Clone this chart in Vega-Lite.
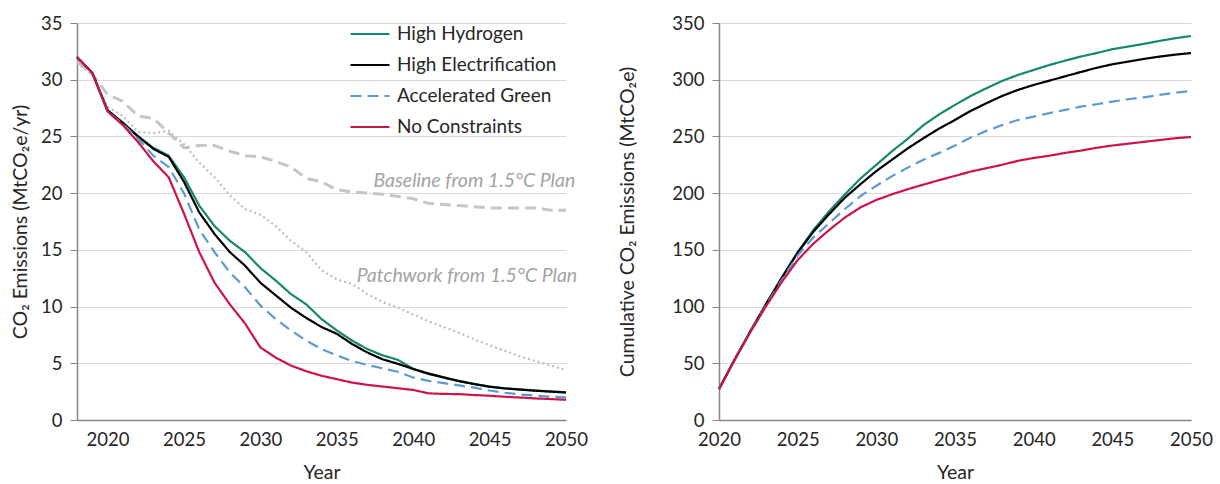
{
  "$schema": "https://vega.github.io/schema/vega-lite/v6.json",
  "background": "white",
  "padding": {"left": 10, "top": 14, "right": 6, "bottom": 4},
  "bounds": "flush",
  "spacing": 153,
  "config": {
    "font": "Lato",
    "view": {"stroke": null},
    "axis": {
      "labelFont": "Lato", "titleFont": "Lato", "labelFontSize": 18.5, "titleFontSize": 19.5,
      "labelColor": "#262626", "titleColor": "#262626", "titleFontWeight": "normal",
      "gridColor": "#d9d9d9", "gridWidth": 1.2, "domainColor": "#868686", "domainWidth": 1.5, "tickColor": "#868686"
    },
    "axisX": {"ticks": false, "grid": false, "labelPadding": 10, "titlePadding": 15, "labelFlush": false},
    "axisY": {"tickSize": 7, "labelPadding": 8, "grid": true},
    "legend": {"labelFont": "Lato", "labelFontSize": 19, "labelColor": "#262626"}
  },
  "datasets": {
    "annual": [
      {"year": 2018, "scenario": "High Hydrogen", "value": 32.0},
      {"year": 2019, "scenario": "High Hydrogen", "value": 30.6},
      {"year": 2020, "scenario": "High Hydrogen", "value": 27.3},
      {"year": 2021, "scenario": "High Hydrogen", "value": 26.2},
      {"year": 2022, "scenario": "High Hydrogen", "value": 25.0},
      {"year": 2023, "scenario": "High Hydrogen", "value": 24.0},
      {"year": 2024, "scenario": "High Hydrogen", "value": 23.3},
      {"year": 2025, "scenario": "High Hydrogen", "value": 21.4},
      {"year": 2026, "scenario": "High Hydrogen", "value": 18.9},
      {"year": 2027, "scenario": "High Hydrogen", "value": 17.1},
      {"year": 2028, "scenario": "High Hydrogen", "value": 15.8},
      {"year": 2029, "scenario": "High Hydrogen", "value": 14.8},
      {"year": 2030, "scenario": "High Hydrogen", "value": 13.4},
      {"year": 2031, "scenario": "High Hydrogen", "value": 12.3},
      {"year": 2032, "scenario": "High Hydrogen", "value": 11.1},
      {"year": 2033, "scenario": "High Hydrogen", "value": 10.2},
      {"year": 2034, "scenario": "High Hydrogen", "value": 8.9},
      {"year": 2035, "scenario": "High Hydrogen", "value": 7.9},
      {"year": 2036, "scenario": "High Hydrogen", "value": 7.0},
      {"year": 2037, "scenario": "High Hydrogen", "value": 6.25},
      {"year": 2038, "scenario": "High Hydrogen", "value": 5.7},
      {"year": 2039, "scenario": "High Hydrogen", "value": 5.3},
      {"year": 2040, "scenario": "High Hydrogen", "value": 4.5},
      {"year": 2041, "scenario": "High Hydrogen", "value": 4.05},
      {"year": 2042, "scenario": "High Hydrogen", "value": 3.75},
      {"year": 2043, "scenario": "High Hydrogen", "value": 3.45},
      {"year": 2044, "scenario": "High Hydrogen", "value": 3.17},
      {"year": 2045, "scenario": "High Hydrogen", "value": 2.95},
      {"year": 2046, "scenario": "High Hydrogen", "value": 2.8},
      {"year": 2047, "scenario": "High Hydrogen", "value": 2.7},
      {"year": 2048, "scenario": "High Hydrogen", "value": 2.6},
      {"year": 2049, "scenario": "High Hydrogen", "value": 2.52},
      {"year": 2050, "scenario": "High Hydrogen", "value": 2.45},
      {"year": 2018, "scenario": "High Electrification", "value": 32.0},
      {"year": 2019, "scenario": "High Electrification", "value": 30.6},
      {"year": 2020, "scenario": "High Electrification", "value": 27.3},
      {"year": 2021, "scenario": "High Electrification", "value": 26.2},
      {"year": 2022, "scenario": "High Electrification", "value": 25.0},
      {"year": 2023, "scenario": "High Electrification", "value": 23.9},
      {"year": 2024, "scenario": "High Electrification", "value": 23.2},
      {"year": 2025, "scenario": "High Electrification", "value": 21.0},
      {"year": 2026, "scenario": "High Electrification", "value": 18.3},
      {"year": 2027, "scenario": "High Electrification", "value": 16.4},
      {"year": 2028, "scenario": "High Electrification", "value": 14.8},
      {"year": 2029, "scenario": "High Electrification", "value": 13.6},
      {"year": 2030, "scenario": "High Electrification", "value": 12.1},
      {"year": 2031, "scenario": "High Electrification", "value": 11.0},
      {"year": 2032, "scenario": "High Electrification", "value": 9.9},
      {"year": 2033, "scenario": "High Electrification", "value": 9.0},
      {"year": 2034, "scenario": "High Electrification", "value": 8.2},
      {"year": 2035, "scenario": "High Electrification", "value": 7.6},
      {"year": 2036, "scenario": "High Electrification", "value": 6.7},
      {"year": 2037, "scenario": "High Electrification", "value": 5.95},
      {"year": 2038, "scenario": "High Electrification", "value": 5.35},
      {"year": 2039, "scenario": "High Electrification", "value": 4.95},
      {"year": 2040, "scenario": "High Electrification", "value": 4.5},
      {"year": 2041, "scenario": "High Electrification", "value": 4.1},
      {"year": 2042, "scenario": "High Electrification", "value": 3.75},
      {"year": 2043, "scenario": "High Electrification", "value": 3.42},
      {"year": 2044, "scenario": "High Electrification", "value": 3.17},
      {"year": 2045, "scenario": "High Electrification", "value": 2.93},
      {"year": 2046, "scenario": "High Electrification", "value": 2.78},
      {"year": 2047, "scenario": "High Electrification", "value": 2.68},
      {"year": 2048, "scenario": "High Electrification", "value": 2.58},
      {"year": 2049, "scenario": "High Electrification", "value": 2.5},
      {"year": 2050, "scenario": "High Electrification", "value": 2.42},
      {"year": 2018, "scenario": "Accelerated Green", "value": 32.0},
      {"year": 2019, "scenario": "Accelerated Green", "value": 30.6},
      {"year": 2020, "scenario": "Accelerated Green", "value": 27.2},
      {"year": 2021, "scenario": "Accelerated Green", "value": 26.1},
      {"year": 2022, "scenario": "Accelerated Green", "value": 24.8},
      {"year": 2023, "scenario": "Accelerated Green", "value": 23.3},
      {"year": 2024, "scenario": "Accelerated Green", "value": 22.3},
      {"year": 2025, "scenario": "Accelerated Green", "value": 20.0},
      {"year": 2026, "scenario": "Accelerated Green", "value": 16.8},
      {"year": 2027, "scenario": "Accelerated Green", "value": 14.8},
      {"year": 2028, "scenario": "Accelerated Green", "value": 13.0},
      {"year": 2029, "scenario": "Accelerated Green", "value": 11.7},
      {"year": 2030, "scenario": "Accelerated Green", "value": 10.1},
      {"year": 2031, "scenario": "Accelerated Green", "value": 8.9},
      {"year": 2032, "scenario": "Accelerated Green", "value": 7.9},
      {"year": 2033, "scenario": "Accelerated Green", "value": 7.0},
      {"year": 2034, "scenario": "Accelerated Green", "value": 6.25},
      {"year": 2035, "scenario": "Accelerated Green", "value": 5.7},
      {"year": 2036, "scenario": "Accelerated Green", "value": 5.2},
      {"year": 2037, "scenario": "Accelerated Green", "value": 4.85},
      {"year": 2038, "scenario": "Accelerated Green", "value": 4.55},
      {"year": 2039, "scenario": "Accelerated Green", "value": 4.25},
      {"year": 2040, "scenario": "Accelerated Green", "value": 3.75},
      {"year": 2041, "scenario": "Accelerated Green", "value": 3.45},
      {"year": 2042, "scenario": "Accelerated Green", "value": 3.25},
      {"year": 2043, "scenario": "Accelerated Green", "value": 3.05},
      {"year": 2044, "scenario": "Accelerated Green", "value": 2.85},
      {"year": 2045, "scenario": "Accelerated Green", "value": 2.6},
      {"year": 2046, "scenario": "Accelerated Green", "value": 2.4},
      {"year": 2047, "scenario": "Accelerated Green", "value": 2.25},
      {"year": 2048, "scenario": "Accelerated Green", "value": 2.15},
      {"year": 2049, "scenario": "Accelerated Green", "value": 2.05},
      {"year": 2050, "scenario": "Accelerated Green", "value": 2.0},
      {"year": 2018, "scenario": "No Constraints", "value": 32.0},
      {"year": 2019, "scenario": "No Constraints", "value": 30.6},
      {"year": 2020, "scenario": "No Constraints", "value": 27.2},
      {"year": 2021, "scenario": "No Constraints", "value": 26.0},
      {"year": 2022, "scenario": "No Constraints", "value": 24.5},
      {"year": 2023, "scenario": "No Constraints", "value": 22.8},
      {"year": 2024, "scenario": "No Constraints", "value": 21.4},
      {"year": 2025, "scenario": "No Constraints", "value": 18.2},
      {"year": 2026, "scenario": "No Constraints", "value": 14.8},
      {"year": 2027, "scenario": "No Constraints", "value": 12.1},
      {"year": 2028, "scenario": "No Constraints", "value": 10.2},
      {"year": 2029, "scenario": "No Constraints", "value": 8.5},
      {"year": 2030, "scenario": "No Constraints", "value": 6.4},
      {"year": 2031, "scenario": "No Constraints", "value": 5.5},
      {"year": 2032, "scenario": "No Constraints", "value": 4.8},
      {"year": 2033, "scenario": "No Constraints", "value": 4.3},
      {"year": 2034, "scenario": "No Constraints", "value": 3.9},
      {"year": 2035, "scenario": "No Constraints", "value": 3.6},
      {"year": 2036, "scenario": "No Constraints", "value": 3.3},
      {"year": 2037, "scenario": "No Constraints", "value": 3.1},
      {"year": 2038, "scenario": "No Constraints", "value": 2.95},
      {"year": 2039, "scenario": "No Constraints", "value": 2.8},
      {"year": 2040, "scenario": "No Constraints", "value": 2.65},
      {"year": 2041, "scenario": "No Constraints", "value": 2.35},
      {"year": 2042, "scenario": "No Constraints", "value": 2.3},
      {"year": 2043, "scenario": "No Constraints", "value": 2.28},
      {"year": 2044, "scenario": "No Constraints", "value": 2.2},
      {"year": 2045, "scenario": "No Constraints", "value": 2.14},
      {"year": 2046, "scenario": "No Constraints", "value": 2.05},
      {"year": 2047, "scenario": "No Constraints", "value": 1.98},
      {"year": 2048, "scenario": "No Constraints", "value": 1.9},
      {"year": 2049, "scenario": "No Constraints", "value": 1.85},
      {"year": 2050, "scenario": "No Constraints", "value": 1.78}
    ],
    "baseline": [
      {"year": 2018, "value": 31.6}, {"year": 2019, "value": 30.5}, {"year": 2020, "value": 28.7},
      {"year": 2021, "value": 28.1}, {"year": 2022, "value": 26.8}, {"year": 2023, "value": 26.6},
      {"year": 2024, "value": 25.3}, {"year": 2025, "value": 24.0}, {"year": 2026, "value": 24.2},
      {"year": 2027, "value": 24.2}, {"year": 2028, "value": 23.7}, {"year": 2029, "value": 23.3},
      {"year": 2030, "value": 23.2}, {"year": 2031, "value": 22.8}, {"year": 2032, "value": 22.3},
      {"year": 2033, "value": 21.3}, {"year": 2034, "value": 21.0}, {"year": 2035, "value": 20.3},
      {"year": 2036, "value": 20.1}, {"year": 2037, "value": 20.0}, {"year": 2038, "value": 19.9},
      {"year": 2039, "value": 19.7}, {"year": 2040, "value": 19.5}, {"year": 2041, "value": 19.1},
      {"year": 2042, "value": 19.0}, {"year": 2043, "value": 18.9}, {"year": 2044, "value": 18.8},
      {"year": 2045, "value": 18.7}, {"year": 2046, "value": 18.7}, {"year": 2047, "value": 18.7},
      {"year": 2048, "value": 18.7}, {"year": 2049, "value": 18.5}, {"year": 2050, "value": 18.5}
    ],
    "patchwork": [
      {"year": 2018, "value": 31.5}, {"year": 2019, "value": 30.4}, {"year": 2020, "value": 27.6},
      {"year": 2021, "value": 26.8}, {"year": 2022, "value": 25.4}, {"year": 2023, "value": 25.3},
      {"year": 2024, "value": 25.5}, {"year": 2025, "value": 24.3}, {"year": 2026, "value": 22.7},
      {"year": 2027, "value": 21.4}, {"year": 2028, "value": 19.8}, {"year": 2029, "value": 18.6},
      {"year": 2030, "value": 18.1}, {"year": 2031, "value": 17.1}, {"year": 2032, "value": 15.8},
      {"year": 2033, "value": 14.8}, {"year": 2034, "value": 13.2}, {"year": 2035, "value": 12.4},
      {"year": 2036, "value": 12.0}, {"year": 2037, "value": 11.1}, {"year": 2038, "value": 10.4},
      {"year": 2039, "value": 9.9}, {"year": 2040, "value": 9.3}, {"year": 2041, "value": 8.7},
      {"year": 2042, "value": 8.2}, {"year": 2043, "value": 7.7}, {"year": 2044, "value": 7.1},
      {"year": 2045, "value": 6.6}, {"year": 2046, "value": 6.1}, {"year": 2047, "value": 5.6},
      {"year": 2048, "value": 5.2}, {"year": 2049, "value": 4.8}, {"year": 2050, "value": 4.4}
    ],
    "notes": [
      {"year": 2037.4, "value": 21.1, "label": "Baseline from 1.5°C Plan"},
      {"year": 2036.3, "value": 12.7, "label": "Patchwork from 1.5°C Plan"}
    ],
    "cumulative": [
      {"year": 2020, "scenario": "High Hydrogen", "value": 27.3},
      {"year": 2021, "scenario": "High Hydrogen", "value": 53.4},
      {"year": 2022, "scenario": "High Hydrogen", "value": 78.4},
      {"year": 2023, "scenario": "High Hydrogen", "value": 102.4},
      {"year": 2024, "scenario": "High Hydrogen", "value": 125.7},
      {"year": 2025, "scenario": "High Hydrogen", "value": 148.0},
      {"year": 2026, "scenario": "High Hydrogen", "value": 167.5},
      {"year": 2027, "scenario": "High Hydrogen", "value": 184.0},
      {"year": 2028, "scenario": "High Hydrogen", "value": 198.9},
      {"year": 2029, "scenario": "High Hydrogen", "value": 213.0},
      {"year": 2030, "scenario": "High Hydrogen", "value": 225.0},
      {"year": 2031, "scenario": "High Hydrogen", "value": 237.0},
      {"year": 2032, "scenario": "High Hydrogen", "value": 248.0},
      {"year": 2033, "scenario": "High Hydrogen", "value": 260.0},
      {"year": 2034, "scenario": "High Hydrogen", "value": 269.5},
      {"year": 2035, "scenario": "High Hydrogen", "value": 277.8},
      {"year": 2036, "scenario": "High Hydrogen", "value": 285.7},
      {"year": 2037, "scenario": "High Hydrogen", "value": 292.5},
      {"year": 2038, "scenario": "High Hydrogen", "value": 298.9},
      {"year": 2039, "scenario": "High Hydrogen", "value": 304.2},
      {"year": 2040, "scenario": "High Hydrogen", "value": 308.6},
      {"year": 2041, "scenario": "High Hydrogen", "value": 313.0},
      {"year": 2042, "scenario": "High Hydrogen", "value": 316.8},
      {"year": 2043, "scenario": "High Hydrogen", "value": 320.4},
      {"year": 2044, "scenario": "High Hydrogen", "value": 323.5},
      {"year": 2045, "scenario": "High Hydrogen", "value": 326.9},
      {"year": 2046, "scenario": "High Hydrogen", "value": 329.2},
      {"year": 2047, "scenario": "High Hydrogen", "value": 331.6},
      {"year": 2048, "scenario": "High Hydrogen", "value": 334.2},
      {"year": 2049, "scenario": "High Hydrogen", "value": 336.6},
      {"year": 2050, "scenario": "High Hydrogen", "value": 338.5},
      {"year": 2020, "scenario": "High Electrification", "value": 27.3},
      {"year": 2021, "scenario": "High Electrification", "value": 53.4},
      {"year": 2022, "scenario": "High Electrification", "value": 78.4},
      {"year": 2023, "scenario": "High Electrification", "value": 102.4},
      {"year": 2024, "scenario": "High Electrification", "value": 125.6},
      {"year": 2025, "scenario": "High Electrification", "value": 147.5},
      {"year": 2026, "scenario": "High Electrification", "value": 166.0},
      {"year": 2027, "scenario": "High Electrification", "value": 181.5},
      {"year": 2028, "scenario": "High Electrification", "value": 196.0},
      {"year": 2029, "scenario": "High Electrification", "value": 208.0},
      {"year": 2030, "scenario": "High Electrification", "value": 219.5},
      {"year": 2031, "scenario": "High Electrification", "value": 229.5},
      {"year": 2032, "scenario": "High Electrification", "value": 239.5},
      {"year": 2033, "scenario": "High Electrification", "value": 248.5},
      {"year": 2034, "scenario": "High Electrification", "value": 257.0},
      {"year": 2035, "scenario": "High Electrification", "value": 264.5},
      {"year": 2036, "scenario": "High Electrification", "value": 272.5},
      {"year": 2037, "scenario": "High Electrification", "value": 279.3},
      {"year": 2038, "scenario": "High Electrification", "value": 285.7},
      {"year": 2039, "scenario": "High Electrification", "value": 291.0},
      {"year": 2040, "scenario": "High Electrification", "value": 295.4},
      {"year": 2041, "scenario": "High Electrification", "value": 299.2},
      {"year": 2042, "scenario": "High Electrification", "value": 303.0},
      {"year": 2043, "scenario": "High Electrification", "value": 306.8},
      {"year": 2044, "scenario": "High Electrification", "value": 310.5},
      {"year": 2045, "scenario": "High Electrification", "value": 313.6},
      {"year": 2046, "scenario": "High Electrification", "value": 316.0},
      {"year": 2047, "scenario": "High Electrification", "value": 318.3},
      {"year": 2048, "scenario": "High Electrification", "value": 320.4},
      {"year": 2049, "scenario": "High Electrification", "value": 322.1},
      {"year": 2050, "scenario": "High Electrification", "value": 323.5},
      {"year": 2020, "scenario": "Accelerated Green", "value": 27.2},
      {"year": 2021, "scenario": "Accelerated Green", "value": 53.4},
      {"year": 2022, "scenario": "Accelerated Green", "value": 78.2},
      {"year": 2023, "scenario": "Accelerated Green", "value": 101.5},
      {"year": 2024, "scenario": "Accelerated Green", "value": 123.8},
      {"year": 2025, "scenario": "Accelerated Green", "value": 145.0},
      {"year": 2026, "scenario": "Accelerated Green", "value": 161.0},
      {"year": 2027, "scenario": "Accelerated Green", "value": 173.5},
      {"year": 2028, "scenario": "Accelerated Green", "value": 186.0},
      {"year": 2029, "scenario": "Accelerated Green", "value": 197.5},
      {"year": 2030, "scenario": "Accelerated Green", "value": 206.5},
      {"year": 2031, "scenario": "Accelerated Green", "value": 215.0},
      {"year": 2032, "scenario": "Accelerated Green", "value": 222.5},
      {"year": 2033, "scenario": "Accelerated Green", "value": 229.5},
      {"year": 2034, "scenario": "Accelerated Green", "value": 235.5},
      {"year": 2035, "scenario": "Accelerated Green", "value": 242.0},
      {"year": 2036, "scenario": "Accelerated Green", "value": 249.0},
      {"year": 2037, "scenario": "Accelerated Green", "value": 254.9},
      {"year": 2038, "scenario": "Accelerated Green", "value": 260.0},
      {"year": 2039, "scenario": "Accelerated Green", "value": 264.5},
      {"year": 2040, "scenario": "Accelerated Green", "value": 267.5},
      {"year": 2041, "scenario": "Accelerated Green", "value": 270.5},
      {"year": 2042, "scenario": "Accelerated Green", "value": 273.4},
      {"year": 2043, "scenario": "Accelerated Green", "value": 276.3},
      {"year": 2044, "scenario": "Accelerated Green", "value": 278.4},
      {"year": 2045, "scenario": "Accelerated Green", "value": 280.7},
      {"year": 2046, "scenario": "Accelerated Green", "value": 282.8},
      {"year": 2047, "scenario": "Accelerated Green", "value": 284.5},
      {"year": 2048, "scenario": "Accelerated Green", "value": 286.6},
      {"year": 2049, "scenario": "Accelerated Green", "value": 288.6},
      {"year": 2050, "scenario": "Accelerated Green", "value": 290.0},
      {"year": 2020, "scenario": "No Constraints", "value": 27.2},
      {"year": 2021, "scenario": "No Constraints", "value": 53.2},
      {"year": 2022, "scenario": "No Constraints", "value": 77.7},
      {"year": 2023, "scenario": "No Constraints", "value": 100.5},
      {"year": 2024, "scenario": "No Constraints", "value": 121.9},
      {"year": 2025, "scenario": "No Constraints", "value": 141.0},
      {"year": 2026, "scenario": "No Constraints", "value": 155.5},
      {"year": 2027, "scenario": "No Constraints", "value": 167.5},
      {"year": 2028, "scenario": "No Constraints", "value": 178.5},
      {"year": 2029, "scenario": "No Constraints", "value": 187.5},
      {"year": 2030, "scenario": "No Constraints", "value": 194.0},
      {"year": 2031, "scenario": "No Constraints", "value": 199.0},
      {"year": 2032, "scenario": "No Constraints", "value": 203.5},
      {"year": 2033, "scenario": "No Constraints", "value": 207.5},
      {"year": 2034, "scenario": "No Constraints", "value": 211.5},
      {"year": 2035, "scenario": "No Constraints", "value": 215.2},
      {"year": 2036, "scenario": "No Constraints", "value": 219.0},
      {"year": 2037, "scenario": "No Constraints", "value": 222.0},
      {"year": 2038, "scenario": "No Constraints", "value": 225.0},
      {"year": 2039, "scenario": "No Constraints", "value": 228.5},
      {"year": 2040, "scenario": "No Constraints", "value": 231.0},
      {"year": 2041, "scenario": "No Constraints", "value": 233.0},
      {"year": 2042, "scenario": "No Constraints", "value": 235.5},
      {"year": 2043, "scenario": "No Constraints", "value": 237.5},
      {"year": 2044, "scenario": "No Constraints", "value": 240.0},
      {"year": 2045, "scenario": "No Constraints", "value": 242.0},
      {"year": 2046, "scenario": "No Constraints", "value": 243.6},
      {"year": 2047, "scenario": "No Constraints", "value": 245.2},
      {"year": 2048, "scenario": "No Constraints", "value": 246.8},
      {"year": 2049, "scenario": "No Constraints", "value": 248.4},
      {"year": 2050, "scenario": "No Constraints", "value": 249.5}
    ]
  },
  "resolve": {"scale": {"color": "independent", "strokeDash": "independent"}, "legend": {"color": "independent", "strokeDash": "independent"}},
  "hconcat": [
    {
      "width": 489, "height": 397,
      "layer": [
        {
          "data": {"name": "baseline"},
          "mark": {"type": "line", "color": "#c6c6c6", "strokeWidth": 3, "strokeDash": [11, 6]},
          "encoding": {
            "x": {"field": "year", "type": "quantitative", "scale": {"domain": [2018, 2050], "nice": false, "zero": false},
              "axis": {"values": [2020, 2025, 2030, 2035, 2040, 2045, 2050], "format": "d", "title": "Year"}},
            "y": {"field": "value", "type": "quantitative", "scale": {"domain": [0, 35], "nice": false},
              "axis": {"values": [0, 5, 10, 15, 20, 25, 30, 35], "title": "CO₂ Emissions (MtCO₂e/yr)", "titlePadding": 10}}
          }
        },
        {
          "data": {"name": "patchwork"},
          "mark": {"type": "line", "color": "#bdbdbd", "strokeWidth": 2.2, "strokeDash": [2, 3]},
          "encoding": {
            "x": {"field": "year", "type": "quantitative"},
            "y": {"field": "value", "type": "quantitative"}
          }
        },
        {
          "data": {"name": "annual"},
          "mark": {"type": "line", "strokeWidth": 2.2},
          "encoding": {
            "x": {"field": "year", "type": "quantitative"},
            "y": {"field": "value", "type": "quantitative"},
            "color": {"field": "scenario", "type": "nominal", "sort": null,
              "scale": {"domain": ["High Hydrogen", "High Electrification", "Accelerated Green", "No Constraints"],
                "range": ["#17876f", "#000000", "#5b9bd5", "#cc1449"]},
              "legend": {"title": null, "orient": "none", "legendX": 282, "legendY": 0, "symbolType": "M-2,0H2", "symbolSize": 380,
                "symbolStrokeWidth": 2.2, "labelOffset": 16, "rowPadding": 10, "padding": 0}},
            "strokeDash": {"field": "scenario", "type": "nominal", "sort": null,
              "scale": {"domain": ["High Hydrogen", "High Electrification", "Accelerated Green", "No Constraints"],
                "range": [[1, 0], [1, 0], [11, 6], [1, 0]]},
              "legend": {"title": null, "orient": "none", "legendX": 282, "legendY": 0, "symbolType": "M-2,0H2", "symbolSize": 380,
                "symbolStrokeWidth": 2.2, "labelOffset": 16, "rowPadding": 10, "padding": 0}}
          }
        },
        {
          "data": {"name": "notes"},
          "mark": {"type": "text", "align": "left", "baseline": "middle", "fontStyle": "italic", "fontSize": 19.5, "color": "#a3a3a3"},
          "encoding": {
            "x": {"field": "year", "type": "quantitative"},
            "y": {"field": "value", "type": "quantitative"},
            "text": {"field": "label", "type": "nominal"}
          }
        }
      ]
    },
    {
      "width": 472, "height": 397,
      "data": {"name": "cumulative"},
      "mark": {"type": "line", "strokeWidth": 2.2},
      "encoding": {
        "x": {"field": "year", "type": "quantitative", "scale": {"domain": [2020, 2050], "nice": false, "zero": false},
          "axis": {"values": [2020, 2025, 2030, 2035, 2040, 2045, 2050], "format": "d", "title": "Year"}},
        "y": {"field": "value", "type": "quantitative", "scale": {"domain": [0, 350], "nice": false},
          "axis": {"values": [0, 50, 100, 150, 200, 250, 300, 350], "title": "Cumulative CO₂ Emissions (MtCO₂e)", "titlePadding": 34}},
        "color": {"field": "scenario", "type": "nominal", "sort": null,
          "scale": {"domain": ["High Hydrogen", "High Electrification", "Accelerated Green", "No Constraints"],
            "range": ["#17876f", "#000000", "#5b9bd5", "#cc1449"]},
          "legend": null},
        "strokeDash": {"field": "scenario", "type": "nominal", "sort": null,
          "scale": {"domain": ["High Hydrogen", "High Electrification", "Accelerated Green", "No Constraints"],
            "range": [[1, 0], [1, 0], [11, 6], [1, 0]]},
          "legend": null}
      }
    }
  ]
}
